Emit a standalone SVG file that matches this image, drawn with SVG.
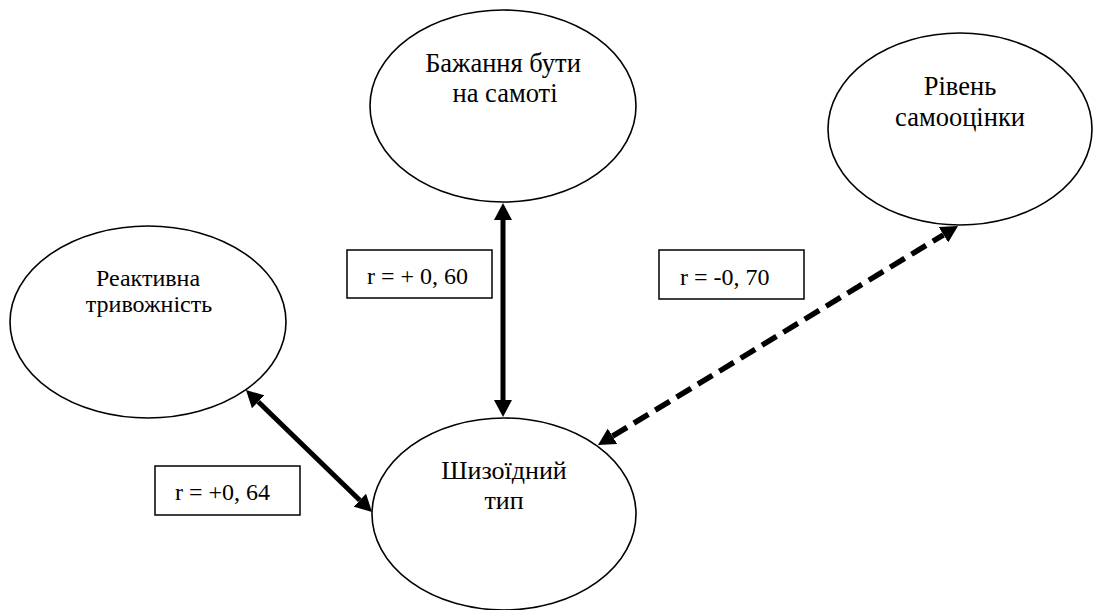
<svg xmlns="http://www.w3.org/2000/svg" width="1093" height="610" viewBox="0 0 1093 610">
<style>
.node ellipse{fill:#fff;stroke:#000;stroke-width:1.6}
.lbl{fill:#fff;stroke:#000;stroke-width:1.5}
.nt{text-anchor:middle}
.conn{stroke:#000;stroke-width:5;fill:none}
.dash{stroke-width:5.5;stroke-dasharray:17 8}
</style>
<defs>
<marker id="ah" markerUnits="userSpaceOnUse" markerWidth="18" markerHeight="18" refX="0" refY="9" orient="auto-start-reverse" viewBox="0 0 18 18">
<path d="M0,0 L17,9 L0,18 z" fill="#000"/>
</marker>
</defs>
<rect width="1093" height="610" fill="#fff"/>
<g id="connectors">
<line class="conn" x1="503" y1="220" x2="503" y2="400" marker-start="url(#ah)" marker-end="url(#ah)"/>
<line class="conn" x1="258.2" y1="401.8" x2="359.8" y2="500.2" marker-start="url(#ah)" marker-end="url(#ah)"/>
<line class="conn dash" x1="612.5" y1="436.2" x2="943.5" y2="234.8" marker-start="url(#ah)" marker-end="url(#ah)"/>
</g>
<g font-family="'Liberation Serif', 'Times New Roman', serif" fill="#000">
<g id="node-top" class="node">
<ellipse cx="503" cy="106" rx="133" ry="96"/>
<text class="nt" x="503" y="72" font-size="26.5">Бажання бути</text>
<text class="nt" x="505" y="102" font-size="26.5">на самоті</text>
</g>
<g id="node-right" class="node">
<ellipse cx="960" cy="129" rx="132" ry="96"/>
<text class="nt" x="960" y="95" font-size="26.5">Рівень</text>
<text class="nt" x="960" y="126" font-size="26.5">самооцінки</text>
</g>
<g id="node-left" class="node">
<ellipse cx="148" cy="322" rx="138" ry="96"/>
<text class="nt" x="148" y="286" font-size="24">Реактивна</text>
<text class="nt" x="149" y="312" font-size="24">тривожність</text>
</g>
<g id="node-bottom" class="node">
<ellipse cx="504" cy="514" rx="132" ry="96"/>
<text class="nt" x="504" y="479" font-size="26">Шизоїдний</text>
<text class="nt" x="504" y="509" font-size="26">тип</text>
</g>
<g id="label-060">
<rect class="lbl" x="347" y="250" width="145" height="48"/>
<text x="367" y="284" font-size="24">r = + 0, 60</text>
</g>
<g id="label-070">
<rect class="lbl" x="659" y="250" width="145" height="49"/>
<text x="680" y="285" font-size="24">r = -0, 70</text>
</g>
<g id="label-064">
<rect class="lbl" x="155" y="466" width="145" height="49"/>
<text x="175" y="500" font-size="24">r = +0, 64</text>
</g>
</g>
</svg>
